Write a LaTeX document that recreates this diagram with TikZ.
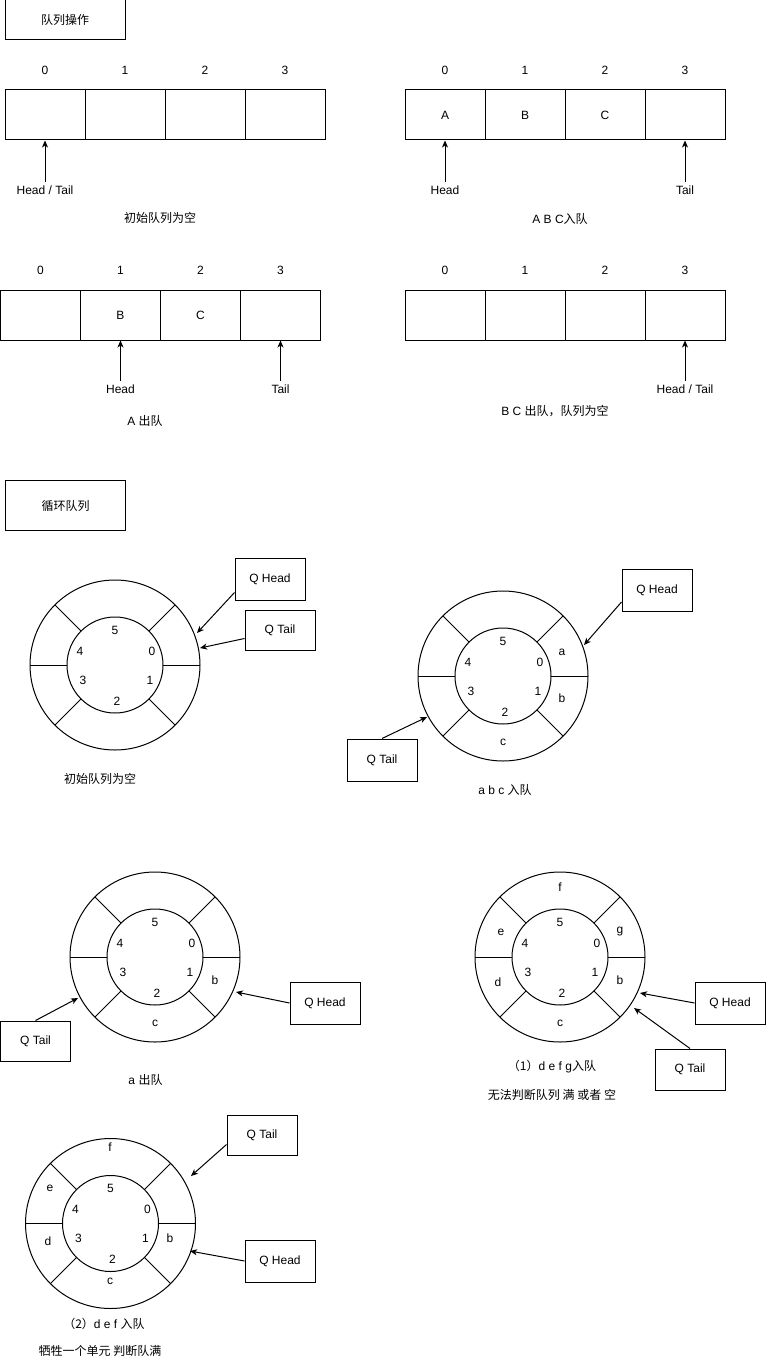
\documentclass[tikz,border=0pt]{standalone}
\usepackage{fontspec}
\setmainfont{Liberation Sans}
\newfontfamily\cjk{Noto Sans CJK SC}
\usetikzlibrary{arrows.meta,calc}
\begin{document}
\begin{tikzpicture}[x=1pt,y=-1pt,line width=1pt,
  every node/.style={font=\fontsize{12}{14}\selectfont,inner sep=0pt},
  cellbox/.style={draw,minimum width=80pt,minimum height=50pt},
  qbox/.style={draw,minimum width=70pt,minimum height=42pt},
  titlebox/.style={draw,minimum width=120pt},
  arr/.style={-{Stealth[length=7pt,width=6pt,inset=2pt]}},
  qring/.pic={
    \draw (0,0) circle[radius=85pt];
    \draw (0,0) circle[radius=48pt];
    \foreach \a in {0,45,135,180,225,315} \draw (\a:48pt) -- (\a:85pt);
    \node (-d5) at (0,-35) {5};
    \node (-d0) at (37,-14) {0};
    \node (-d4) at (-35,-14) {4};
    \node (-d3) at (-32,15) {3};
    \node (-d1) at (35,15) {1};
    \node (-d2) at (2,36) {2};
  }]
\useasboundingbox (0,0) rectangle (766,1364);

% ---------- 队列操作 ----------
\node[titlebox,minimum height=40pt] (t1) at (65,20) {\cjk 队列操作};

% array 1
\foreach \i/\x in {0/45,1/125,2/205,3/285}{
  \node[cellbox] (a1c\i) at (\x,115) {};
  \node (a1i\i) at (\x,70) {\i};
}
\node (a1ht) at (45,190) {Head / Tail};
\draw[arr] ([yshift=3pt]a1ht.north) -- (a1c0.south);
\node (cap1) at (160,218) {\cjk 初始队列为空};

% array 2
\foreach \i/\x/\t in {0/445/A,1/525/B,2/605/C,3/685/{}}{
  \node[cellbox] (a2c\i) at (\x,115) {\t};
  \node (a2i\i) at (\x,70) {\i};
}
\node (a2h) at (445,190) {Head};
\node (a2t) at (685,190) {Tail};
\draw[arr] ([yshift=3pt]a2h.north) -- (a2c0.south);
\draw[arr] ([yshift=3pt]a2t.north) -- (a2c3.south);
\node (cap2) at (560,219) {A B C{\cjk 入队}};

% array 3
\foreach \i/\x/\t in {0/40.5/{},1/120.5/B,2/200.5/C,3/280.5/{}}{
  \node[cellbox] (a3c\i) at (\x,315) {\t};
  \node (a3i\i) at (\x,270) {\i};
}
\node (a3h) at (120.5,389) {Head};
\node (a3t) at (280.5,389) {Tail};
\draw[arr] ([yshift=3pt]a3h.north) -- (a3c1.south);
\draw[arr] ([yshift=3pt]a3t.north) -- (a3c3.south);
\node (cap3) at (145,421) {A {\cjk 出队}};

% array 4
\foreach \i/\x in {0/445,1/525,2/605,3/685}{
  \node[cellbox] (a4c\i) at (\x,315) {};
  \node (a4i\i) at (\x,270) {\i};
}
\node (a4ht) at (685,389) {Head / Tail};
\draw[arr] ([yshift=3pt]a4ht.north) -- (a4c3.south);
\node (cap4) at (555,411) {B C {\cjk 出队，队列为空}};

% ---------- 循环队列 ----------
\node[titlebox,minimum height=50pt] (t2) at (65.5,505.5) {\cjk 循环队列};

% circle 1
\pic (r1) at (115,665) {qring};
\node[qbox] (qh1) at (270,579) {Q Head};
\node[qbox,minimum height=40pt] (qt1) at (280,630) {Q Tail};
\coordinate (r1h) at (197,633);
\coordinate (r1t) at (200,648);
\draw[arr] ($(qh1.south west)+(0,-8)$) -- (r1h);
\draw[arr] ($(qt1.south west)+(0,-12)$) -- (r1t);
\node (cap5) at (100,779) {\cjk 初始队列为空};

% circle 2
\pic (r2) at (503,676) {qring};
\node (r2a) at (562,652) {a};
\node (r2b) at (562,698) {b};
\node (r2c) at (503,742) {c};
\node[qbox] (qh2) at (657,590) {Q Head};
\node[qbox] (qt2) at (382,760) {Q Tail};
\coordinate (r2h) at (584,645);
\coordinate (r2t) at (427,717);
\draw[arr] ($(qh2.south west)+(0,-9.5)$) -- (r2h);
\draw[arr] (qt2.north) -- (r2t);
\node (cap6) at (505,790) {a b c {\cjk 入队}};

% circle 3
\pic (r3) at (155,957) {qring};
\node (r3b) at (215,980) {b};
\node (r3c) at (155,1023) {c};
\node[qbox,minimum height=40pt] (qt3) at (35.5,1041) {Q Tail};
\node[qbox] (qh3) at (325,1003) {Q Head};
\coordinate (r3t) at (78,998);
\coordinate (r3h) at (236,992);
\draw[arr] (qt3.north) -- (r3t);
\draw[arr] (qh3.west) -- (r3h);
\node (cap7) at (145.5,1080) {a {\cjk 出队}};

% circle 4
\pic (r4) at (560,957) {qring};
\node (r4f) at (560,887) {f};
\node (r4e) at (501,932) {e};
\node (r4g) at (620,932) {g};
\node (r4d) at (498,982) {d};
\node (r4b) at (620,980) {b};
\node (r4c) at (560,1023) {c};
\node[qbox] (qh4) at (730,1003) {Q Head};
\node[qbox,minimum height=41pt] (qt4) at (690,1069.5) {Q Tail};
\coordinate (r4h) at (640,993);
\coordinate (r4t) at (634,1008);
\draw[arr] (qh4.west) -- (r4h);
\draw[arr] (qt4.north) -- (r4t);
\node (cap8) at (552,1067) {{\cjk （1）}d e f g{\cjk 入队}};
\node (cap9) at (552,1095) {\cjk 无法判断队列 满 或者 空};

% circle 5
\pic (r5) at (110.5,1223.5) {qring};
\node (r5f) at (110,1147) {f};
\node (r5e) at (50,1188) {e};
\node (r5d) at (48,1241) {d};
\node (r5b) at (170,1238) {b};
\node (r5c) at (110,1281) {c};
\node[qbox,minimum height=40pt] (qt5) at (262,1135) {Q Tail};
\node[qbox] (qh5) at (280,1261) {Q Head};
\coordinate (r5t) at (191,1176);
\coordinate (r5h) at (190,1251);
\draw[arr] ($(qt5.south west)+(0,-11)$) -- (r5t);
\draw[arr] (qh5.west) -- (r5h);
\node (cap10) at (104,1324) {{\cjk （2）}d e f {\cjk 入队}};
\node (cap11) at (100,1351) {\cjk 牺牲一个单元 判断队满};
\end{tikzpicture}
\end{document}
